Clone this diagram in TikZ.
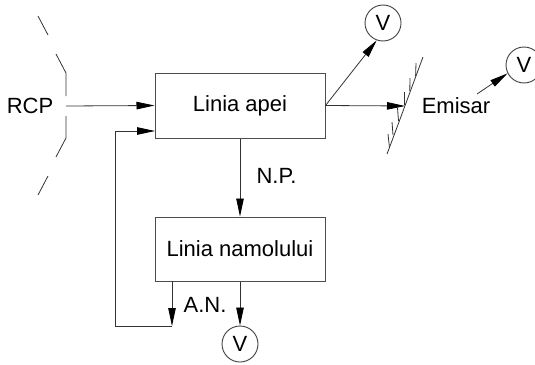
\documentclass[tikz,border=0pt]{standalone}
\usepackage{fontspec}
\setmainfont{Liberation Sans}
\usetikzlibrary{arrows.meta}
\tikzset{
  x=1pt,y=-1pt,
  line/.style={draw=black!80,line width=0.8pt},
  flow/.style={line,-{Triangle[length=18pt,width=7.5pt,black]}},
  blockbox/.style={draw=black!70,line width=1pt,minimum width=170pt,inner sep=0pt,font=\fontsize{22}{24}\selectfont},
  meter/.style={circle,draw=black!75,line width=0.9pt,minimum size=36pt,inner sep=0pt,font=\fontsize{22}{24}\selectfont},
  lbl/.style={inner sep=0pt,font=\fontsize{22}{24}\selectfont},
}
\begin{document}
\begin{tikzpicture}
\useasboundingbox (0,0) rectangle (535,364);
\clip (0,0) rectangle (535,364);
\node[blockbox,minimum height=65pt] (apa) at (240,105.5) {Linia apei};
\node[blockbox,minimum height=64pt] (nam) at (240,249) {Linia namolului};
\node[meter] (v1) at (383,23) {V};
\node[meter] (v2) at (524,65) {V};
\node[meter] (v3) at (240,344) {V};
\node[lbl] (rcp) at (30,106) {RCP};
\node[lbl] (emi) at (456,106) {Emisar};
\node[lbl] (np) at (276.5,176) {N.P.};
\node[lbl] (an) at (205,305) {A.N.};
% wall left
\coordinate (w0) at (66,106);
\draw[line] (38,16) -- (48,35);
\draw[line] (56,54) -- (66,73) -- (66,96);
\draw[line] (66,116) -- (66,138) -- (56,157);
\draw[line] (48,176) -- (38,195);
\draw[flow] (w0) -- (apa.west);
% feedback
\coordinate (fb) at (155,131);
\coordinate (c1) at (115,131);
\coordinate (c2) at (115,326);
\coordinate (s1) at (172,281);
\coordinate (s2) at (172,326);
\draw[line] (c2) -- (s2);
\draw[flow] (c2) -- (c1) -- (fb);
\draw[flow] (s1) -- (s2);
\draw[flow] (apa.south) -- (nam.north);
\draw[flow] (nam.south) -- (v3.north);
\draw[flow] (apa.east) -- (v1.250);
% receiver
\coordinate (rc) at (405,106);
\draw[flow] (apa.east) -- (rc);
\draw[line] (387,154) .. controls (398,125) and (410,92) .. (423,57);
\foreach \xa/\ya/\xb/\yb in {416/63/415.6/76, 410/78/409.8/91, 404/92/404/105, 397.5/108/398.5/121, 392/122/393/135, 388/134/389.5/148}
  \draw[line] (\xa,\ya) -- (\xb,\yb);
\coordinate (e) at (477,94);
\draw[flow] (e) -- (v2.207);
\end{tikzpicture}
\end{document}
